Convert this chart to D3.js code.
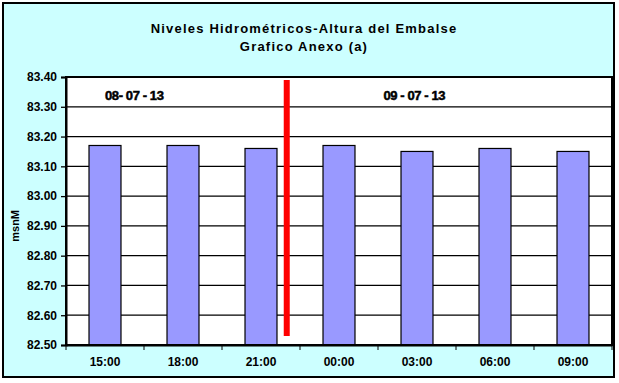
<!DOCTYPE html>
<meta charset="utf-8" />
<style>
  body {
    margin: 0;
    font-family: "Liberation Sans", Arial, sans-serif;
  }
  .tick text {
    font-weight: bold;
    font-size: 12px;
    fill: #000;
  }
</style>
<body>
  <div class="container"></div>
  <script src="https://d3js.org/d3.v7.min.js"></script>
  <script>
    // data
    const horas = ["15:00", "18:00", "21:00", "00:00", "03:00", "06:00", "09:00"];
    const niveles = [83.17, 83.17, 83.16, 83.17, 83.15, 83.16, 83.15];
    const yTicks = [82.5, 82.6, 82.7, 82.8, 82.9, 83.0, 83.1, 83.2, 83.3, 83.4];
    const fechas = ["08- 07 - 13", "09 - 07 - 13"];

    const W = 619, H = 383;
    const margin = { top: 77, right: 7, bottom: 38, left: 66 };
    const width = W - margin.left - margin.right,
      height = H - margin.top - margin.bottom;

    const svg = d3.select(".container").append("svg")
      .attr("width", W).attr("height", H);

    // chart background + border
    svg.append("rect")
      .attr("x", 3).attr("y", 3)
      .attr("width", 611).attr("height", 374)
      .attr("fill", "#CCFFFF")
      .attr("stroke", "#000").attr("stroke-width", 2);

    svg.append("text")
      .attr("x", 304).attr("y", 33)
      .attr("text-anchor", "middle")
      .style("font-weight", "bold").style("font-size", "13px")
      .style("letter-spacing", "1.2px")
      .text("Niveles Hidrométricos-Altura del Embalse");
    svg.append("text")
      .attr("x", 304).attr("y", 51)
      .attr("text-anchor", "middle")
      .style("font-weight", "bold").style("font-size", "13px")
      .style("letter-spacing", "1.2px")
      .text("Grafico Anexo (a)");

    const g = svg.append("g")
      .attr("transform", "translate(" + margin.left + "," + margin.top + ")");

    g.append("rect")
      .attr("width", width).attr("height", height)
      .attr("fill", "#fff");

    const x = d3.scaleBand().domain(horas).range([0, width]).paddingInner(0.59).paddingOuter(0.295);
    const y = d3.scaleLinear().domain([82.5, 83.4]).range([height, 0]);

    // grid lines
    g.append("g")
      .selectAll("line")
      .data(yTicks)
      .join("line")
      .attr("x1", 0).attr("x2", width)
      .attr("y1", d => y(d)).attr("y2", d => y(d))
      .attr("stroke", "#000").attr("stroke-width", 1.3);

    // bars
    g.selectAll(".bar")
      .data(niveles)
      .join("rect")
      .attr("class", "bar")
      .attr("x", (d, i) => x(horas[i]))
      .attr("y", d => y(d))
      .attr("width", x.bandwidth())
      .attr("height", d => height - y(d))
      .attr("fill", "#9999FF")
      .attr("stroke", "#000").attr("stroke-width", 1.2);

    // plot frame
    g.append("rect")
      .attr("width", width).attr("height", height)
      .attr("fill", "none")
      .attr("stroke", "#000").attr("stroke-width", 2);

    // y axis
    const yAxis = g.append("g")
      .call(d3.axisLeft(y).tickValues(yTicks).tickFormat(d3.format(".2f")).tickSize(5).tickPadding(4));
    yAxis.select(".domain").attr("stroke-width", 2);
    yAxis.selectAll(".tick line").attr("stroke-width", 1.3);

    // x axis: ticks on category boundaries
    const xAxis = g.append("g")
      .attr("transform", "translate(0," + height + ")")
      .call(d3.axisBottom(x).tickSize(0).tickPadding(12));
    xAxis.select(".domain").attr("stroke-width", 2);
    const step = x.step();
    xAxis.selectAll(".sep")
      .data(d3.range(horas.length + 1))
      .join("line")
      .attr("x1", i => i * step).attr("x2", i => i * step)
      .attr("y1", 0).attr("y2", 5)
      .attr("stroke", "#000").attr("stroke-width", 1);

    // y label
    g.append("text")
      .attr("transform", "rotate(-90)")
      .attr("x", -(y(82.9)) ).attr("y", -47)
      .attr("text-anchor", "middle")
      .style("font-weight", "bold").style("font-size", "11px")
      .text("msnM");

    // red divider between the two days
    const xCorte = x("21:00") + x.bandwidth() / 2 + step * 0.33;
    g.append("line")
      .attr("x1", xCorte).attr("x2", xCorte)
      .attr("y1", y(83.39)).attr("y2", y(82.53))
      .attr("stroke", "#FF0000").attr("stroke-width", 6);

    // day labels
    const fechaPos = [x("15:00") + step * 0.58, x("21:00") + step * 2.17];
    g.selectAll(".fecha")
      .data(fechas)
      .join("text")
      .attr("class", "fecha")
      .attr("x", (d, i) => fechaPos[i])
      .attr("y", y(83.34) + 5)
      .attr("text-anchor", "middle")
      .style("font-weight", "bold").style("font-size", "13px")
      .style("letter-spacing", "-0.4px")
      .attr("stroke", "#000").attr("stroke-width", 0.5)
      .text(d => d);
  </script>
</body>
